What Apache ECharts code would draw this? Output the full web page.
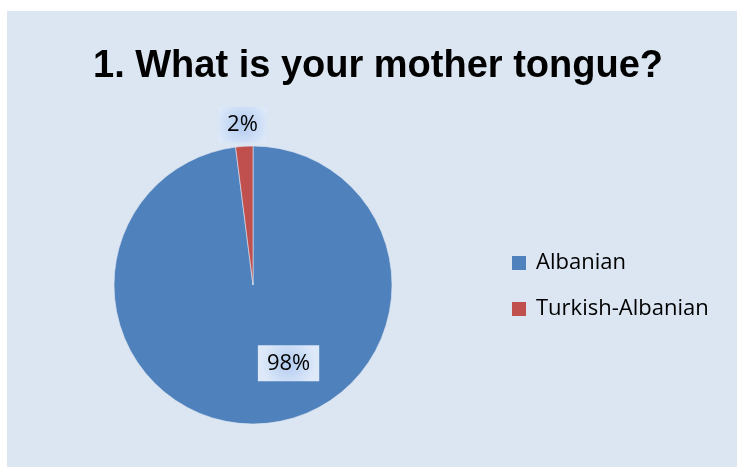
<!DOCTYPE html>
<html>
<head>
<meta charset="utf-8">
<script src="https://cdn.jsdelivr.net/npm/echarts@6/dist/echarts.min.js"></script>
<style>
  html, body { margin: 0; padding: 0; background: #ffffff; }
  #chart { position: absolute; left: 7px; top: 11px; width: 730px; height: 456px; }
</style>
</head>
<body>
<div id="chart"></div>
<script>
// Survey answers: share of respondents per mother tongue (percent)
const categories = ['Albanian', 'Turkish-Albanian'];
const shares = [98, 2];
const sliceColors = ['#4f81bd', '#c0504d'];
const titleText = '1. What is your mother tongue?';

// Soft glow behind each data label
const labelGlow = {
  type: 'radial', x: 0.5, y: 0.5, r: 0.75,
  colorStops: [
    { offset: 0, color: '#b2cbf0' },
    { offset: 1, color: '#dde9f9' }
  ]
};

const labelOffsets = [[31, 6], [-6, -88]];

const chart = echarts.init(document.getElementById('chart'), null, { renderer: 'canvas' });

chart.setOption({
  backgroundColor: '#dce6f2',
  animation: false,
  title: {
    text: titleText,
    left: 81,
    top: 32,
    textStyle: {
      fontFamily: 'Liberation Sans, sans-serif',
      fontWeight: 'bold',
      fontSize: 38,
      color: '#000000'
    }
  },
  legend: {
    orient: 'vertical',
    left: 505,
    top: 241,
    padding: 0,
    itemWidth: 14,
    itemHeight: 14,
    itemGap: 24,
    icon: 'rect',
    itemStyle: { borderWidth: 0 },
    data: categories,
    textStyle: {
      fontFamily: 'Open Sans, sans-serif',
      fontSize: 22,
      color: '#000000',
      padding: [0, 0, 0, 5]
    }
  },
  series: [{
    type: 'pie',
    center: [246, 274],
    radius: [0, 139],
    startAngle: 90,
    clockwise: true,
    color: sliceColors,
    itemStyle: { borderColor: '#dce6f2', borderWidth: 0.6 },
    labelLine: { show: false },
    emphasis: { disabled: true },
    data: categories.map((name, i) => ({
      name: name,
      value: shares[i],
      label: {
        show: true,
        position: 'inside',
        offset: labelOffsets[i],
        formatter: '{c}%',
        fontFamily: 'Open Sans, sans-serif',
        fontSize: 22,
        color: '#000000',
        backgroundColor: labelGlow,
        padding: [8, 9, 6, 9]
      }
    }))
  }]
});
</script>
</body>
</html>
